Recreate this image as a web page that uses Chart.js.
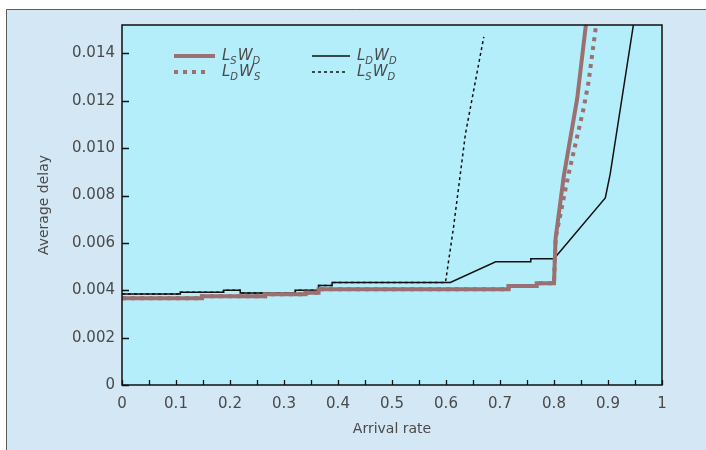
<!DOCTYPE html>
<html>
<head>
<meta charset="utf-8">
<script src="https://cdn.jsdelivr.net/npm/chart.js@4.4.1/dist/chart.umd.min.js"></script>
<style>
  html, body { margin: 0; padding: 0; background: #fff; }
  #chart { display: block; }
</style>
</head>
<body>
<canvas id="chart" width="706" height="450"></canvas>
<script>
"use strict"

// values (x = arrival rate, y = average delay)
const lswdX = [0, 0.148, 0.148, 0.265, 0.265, 0.34, 0.34, 0.364, 0.364, 0.716, 0.716, 0.768, 0.768, 0.8, 0.803, 0.818, 0.843, 0.859];
const lswdY = [0.00366, 0.00366, 0.00375, 0.00375, 0.00383, 0.00383, 0.0039, 0.0039, 0.00404, 0.00404, 0.00418, 0.00418, 0.0043, 0.0043, 0.0062, 0.0088, 0.0121, 0.0152];

const ldwsX = [0, 0.148, 0.148, 0.265, 0.265, 0.34, 0.34, 0.364, 0.364, 0.716, 0.716, 0.768, 0.768, 0.8, 0.803, 0.826, 0.855, 0.864, 0.878];
const ldwsY = [0.00366, 0.00366, 0.00375, 0.00375, 0.00383, 0.00383, 0.0039, 0.0039, 0.00404, 0.00404, 0.00418, 0.00418, 0.0043, 0.0043, 0.0062, 0.0088, 0.0117, 0.0128, 0.0152];

const ldwdX = [0, 0.108, 0.108, 0.188, 0.188, 0.219, 0.219, 0.321, 0.321, 0.364, 0.364, 0.389, 0.389, 0.608, 0.692, 0.757, 0.757, 0.8, 0.895, 0.904, 0.947];
const ldwdY = [0.00384, 0.00384, 0.00392, 0.00392, 0.004, 0.004, 0.00388, 0.00388, 0.004, 0.004, 0.0042, 0.0042, 0.00433, 0.00433, 0.0052, 0.0052, 0.00533, 0.00533, 0.0079, 0.0089, 0.0152];

const lswd2X = [0, 0.108, 0.108, 0.188, 0.188, 0.219, 0.219, 0.321, 0.321, 0.364, 0.364, 0.389, 0.389, 0.599, 0.614, 0.636, 0.670];
const lswd2Y = [0.00384, 0.00384, 0.00392, 0.00392, 0.004, 0.004, 0.00388, 0.00388, 0.004, 0.004, 0.0042, 0.0042, 0.00433, 0.00433, 0.00667, 0.0106, 0.0147];

const xTickLabels = ['0', '0.1', '0.2', '0.3', '0.4', '0.5', '0.6', '0.7', '0.8', '0.9', '1'];
const yTickLabels = ['0', '0.002', '0.004', '0.006', '0.008', '0.010', '0.012', '0.014'];

// legend texts: [main, subscript] pairs
const legendLSWD = [['L', 'S'], ['W', 'D']];
const legendLDWS = [['L', 'D'], ['W', 'S']];
const legendLDWD = [['L', 'D'], ['W', 'D']];

const brown = '#9b7070';
const ink = '#4a4a4a';

function toPoints(xs, ys) {
    return xs.map((x, i) => ({ x: x, y: ys[i] }));
}

// background, plot frame, inward ticks and legend
const decorations = {
    id: 'decorations',
    beforeDraw(chart) {
        const ctx = chart.ctx;
        const a = chart.chartArea;
        ctx.save();
        ctx.fillStyle = '#ffffff';
        ctx.fillRect(0, 0, chart.width, chart.height);
        ctx.fillStyle = '#d3e7f4';
        ctx.fillRect(6, 9, chart.width - 6, chart.height - 9);
        ctx.strokeStyle = '#5a5a5a';
        ctx.lineWidth = 1;
        ctx.beginPath();
        ctx.moveTo(6.5, chart.height);
        ctx.lineTo(6.5, 9.5);
        ctx.lineTo(chart.width, 9.5);
        ctx.stroke();
        ctx.fillStyle = '#b5eefb';
        ctx.fillRect(a.left, a.top, a.right - a.left, a.bottom - a.top);
        ctx.restore();
    },
    afterDraw(chart) {
        const ctx = chart.ctx;
        const a = chart.chartArea;
        const xs = chart.scales.x;
        const ys = chart.scales.y;
        ctx.save();
        ctx.strokeStyle = '#111';
        ctx.lineWidth = 1.5;
        ctx.strokeRect(a.left, a.top, a.right - a.left, a.bottom - a.top);
        ctx.lineWidth = 1.3;
        ctx.beginPath();
        xs.ticks.forEach(t => {
            const px = Math.round(xs.getPixelForValue(t.value)) + 0.5;
            ctx.moveTo(px, a.bottom);
            ctx.lineTo(px, a.bottom - 5);
        });
        ys.ticks.forEach(t => {
            const py = Math.round(ys.getPixelForValue(t.value)) + 0.5;
            ctx.moveTo(a.left, py);
            ctx.lineTo(a.left + 7, py);
        });
        ctx.stroke();

        // legend
        let drawSample = function(x1, x2, y, color, width, dash) {
            ctx.strokeStyle = color;
            ctx.lineWidth = width;
            ctx.setLineDash(dash);
            ctx.beginPath();
            ctx.moveTo(x1, y);
            ctx.lineTo(x2, y);
            ctx.stroke();
            ctx.setLineDash([]);
        };
        let drawLabel = function(x, y, parts) {
            ctx.fillStyle = ink;
            ctx.textBaseline = 'middle';
            ctx.textAlign = 'left';
            parts.forEach(p => {
                ctx.font = 'italic 15px "DejaVu Sans"';
                ctx.fillText(p[0], x, y);
                x += ctx.measureText(p[0]).width;
                ctx.font = 'italic 10px "DejaVu Sans"';
                ctx.fillText(p[1], x, y + 5);
                x += ctx.measureText(p[1]).width + 1;
            });
        };
        const row1 = 56, row2 = 72;
        drawSample(174, 215, row1, brown, 4, []);
        drawLabel(222, row1, legendLSWD);
        drawSample(174, 210, row2, brown, 4, [4, 5]);
        drawLabel(222, row2, legendLDWS);
        drawSample(312, 350, row1, '#111', 1.5, []);
        drawLabel(357, row1, legendLDWD);
        drawSample(312, 347, row2, '#111', 1.5, [3, 3]);
        drawLabel(357, row2, legendLSWD);
        ctx.restore();
    }
};

Chart.defaults.font.family = '"DejaVu Sans", sans-serif';

const chart = new Chart(document.getElementById('chart'), {
    type: 'line',
    data: {
        datasets: [
            { label: 'LSWD', data: toPoints(lswdX, lswdY), borderColor: brown, borderWidth: 4, pointRadius: 0, fill: false },
            { label: 'LDWS', data: toPoints(ldwsX, ldwsY), borderColor: brown, borderWidth: 4, borderDash: [4, 5], pointRadius: 0, fill: false },
            { label: 'LDWD', data: toPoints(ldwdX, ldwdY), borderColor: '#111', borderWidth: 1.5, pointRadius: 0, fill: false },
            { label: 'LSWD dashed', data: toPoints(lswd2X, lswd2Y), borderColor: '#111', borderWidth: 1.5, borderDash: [3, 3], pointRadius: 0, fill: false }
        ]
    },
    options: {
        responsive: false,
        animation: false,
        layout: { padding: { left: 0, right: 44, top: 25, bottom: 0 } },
        plugins: { legend: { display: false }, tooltip: { enabled: false } },
        scales: {
            x: {
                type: 'linear', min: 0, max: 1,
                border: { display: false },
                grid: { display: false, drawTicks: false },
                ticks: {
                    stepSize: 0.05, autoSkip: false, maxRotation: 0, padding: 10,
                    color: ink, font: { size: 15 },
                    callback: function(value) {
                        const i = Math.round(value * 20);
                        return i % 2 === 0 ? xTickLabels[i / 2] : '';
                    }
                },
                title: { display: true, text: 'Arrival rate', color: ink, font: { size: 14 }, padding: { top: 0, bottom: 12 } },
                afterFit: function(s) { s.height = 65; }
            },
            y: {
                min: 0, max: 0.0152,
                border: { display: false },
                grid: { display: false, drawTicks: false },
                afterBuildTicks: function(s) { s.ticks = s.ticks.filter(t => t.value < 0.0145); },
                ticks: {
                    stepSize: 0.002, padding: 7, color: ink, font: { size: 15 },
                    callback: function(value) { return yTickLabels[Math.round(value / 0.002)]; }
                },
                title: { display: true, text: 'Average delay', color: ink, font: { size: 14 }, padding: { top: 36, bottom: 0 } },
                afterFit: function(s) { s.width = 122; }
            }
        }
    },
    plugins: [decorations]
});
</script>
</body>
</html>
